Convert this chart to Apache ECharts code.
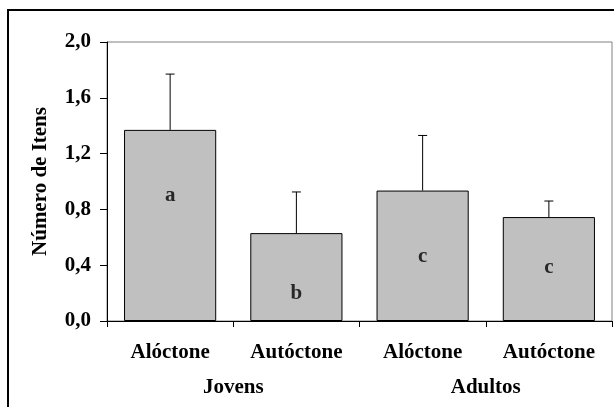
<!DOCTYPE html>
<html><head><meta charset="utf-8">
<script src="https://cdn.jsdelivr.net/npm/echarts@6/dist/echarts.min.js"></script>
<style>html,body{margin:0;padding:0;background:#fff}#c{width:614px;height:407px}</style>
</head><body><div id="c"></div>
<script>
const categories = ['Alóctone', 'Autóctone', 'Alóctone', 'Autóctone'];
const groups = ['Jovens', 'Adultos'];
const means = [1.37, 0.63, 0.935, 0.745];
const errors = [0.40, 0.295, 0.395, 0.115];
const letters = ['a', 'b', 'c', 'c'];
const letterPos = [0.90, 0.20, 0.46, 0.38];
const yTicks = { min: 0, max: 2, interval: 0.4 };
const yTitle = 'Número de Itens';

const font = 'Liberation Serif';
const fs = 21;
const chart = echarts.init(document.getElementById('c'), null, { renderer: 'canvas' });
chart.setOption({
  animation: false,
  backgroundColor: '#fff',
  graphic: [{ type: 'rect', shape: { x: 8, y: 10, width: 640, height: 440 }, style: { fill: 'none', stroke: '#000', lineWidth: 2 }, z: 100 }],
  grid: { left: 107, right: 2, top: 42, bottom: 86, show: true, borderColor: '#808080', borderWidth: 1, backgroundColor: 'transparent' },
  xAxis: [{
    type: 'category', data: categories, position: 'bottom',
    axisLine: { lineStyle: { color: '#000', width: 1 } },
    axisTick: { show: true, length: 6, lineStyle: { color: '#000' } },
    axisLabel: { fontFamily: font, fontWeight: 'bold', fontSize: fs, color: '#000', margin: 21, interval: 0 }
  }, {
    type: 'category', data: groups, position: 'bottom', offset: 0,
    axisLine: { show: false }, axisTick: { show: false },
    axisLabel: { fontFamily: font, fontWeight: 'bold', fontSize: fs, color: '#000', margin: 56, interval: 0 }
  }],
  yAxis: {
    type: 'value', min: yTicks.min, max: yTicks.max, interval: yTicks.interval,
    name: yTitle, nameLocation: 'middle', nameGap: 56, nameRotate: 90,
    nameTextStyle: { fontFamily: font, fontWeight: 'bold', fontSize: fs, color: '#000' },
    axisLine: { show: true, lineStyle: { color: '#000', width: 1 } },
    axisTick: { show: true, length: 7, lineStyle: { color: '#000' } },
    splitLine: { show: false },
    axisLabel: { fontFamily: font, fontWeight: 'bold', fontSize: fs, color: '#000', margin: 16,
      formatter: v => v.toFixed(1).replace('.', ',') }
  },
  series: [{
    type: 'bar', data: means, barWidth: '73%', xAxisIndex: 0,
    itemStyle: { color: '#C0C0C0', borderColor: '#000', borderWidth: 1 }
  }, {
    type: 'custom', xAxisIndex: 0, z: 5,
    data: means.map((m, i) => [i, m, m + errors[i]]),
    renderItem: (params, api) => {
      const x = api.value(0);
      const p0 = api.coord([x, api.value(1)]);
      const p1 = api.coord([x, api.value(2)]);
      const hw = 4.5;
      return { type: 'group', children: [
        { type: 'line', shape: { x1: p0[0], y1: p0[1], x2: p1[0], y2: p1[1] }, style: { stroke: '#000', lineWidth: 1 } },
        { type: 'line', shape: { x1: p1[0] - hw, y1: p1[1], x2: p1[0] + hw, y2: p1[1] }, style: { stroke: '#000', lineWidth: 1 } }
      ] };
    }
  }, {
    type: 'scatter', xAxisIndex: 0, symbolSize: 0, z: 6,
    data: letterPos.map((v, i) => [i, v]),
    label: { show: true, position: 'inside', formatter: p => letters[p.dataIndex],
      fontFamily: font, fontWeight: 'bold', fontSize: fs, color: '#000' }
  }]
});
</script></body></html>
